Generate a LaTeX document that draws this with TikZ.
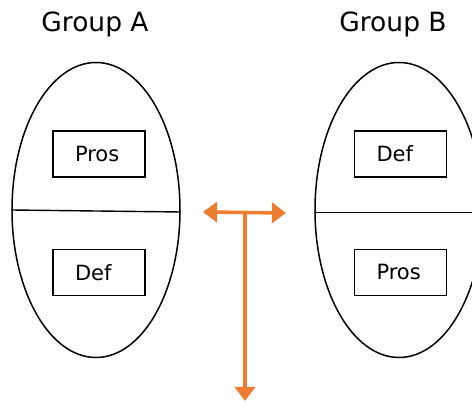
\documentclass[tikz,border=0pt]{standalone}
\usepackage{fontspec}
\setmainfont{DejaVu Sans}
\usetikzlibrary{shapes.geometric,arrows.meta}
\definecolor{arrorange}{RGB}{237,125,49}

\begin{document}
\begin{tikzpicture}[x=1pt,y=1pt,
    group/.style={draw,ellipse,line width=1.5pt,minimum width=168pt,minimum height=295pt,inner sep=0pt},
    item/.style={draw,line width=1.2pt,minimum height=46pt,text width=48pt,inner xsep=22pt,align=left,font=\fontsize{21}{25}\selectfont},
    title/.style={font=\fontsize{26.5}{31}\selectfont},
    orangearr/.style={draw=arrorange,line width=3.6pt}]
\useasboundingbox (0,0) rectangle (472,403);
% the two groups
\node[group] (ga) at (96,193) {};
\node[group] (gb) at (399,193) {};
\node[title] (ta) at (95,379) {Group A};
\node[title] (tb) at (393,379) {Group B};
\draw[line width=1.4pt] (ga.west) -- ([yshift=-2pt]ga.east);
\draw[line width=1.4pt] ([yshift=-2.5pt]gb.west) -- ([yshift=-2.5pt]gb.east);
% boxes inside
\node[item] (pa) at (99,249) {Pros};
\node[item] (da) at (99,130.5) {Def};
\node[item] (db) at (400.5,249) {Def};
\node[item] (pb) at (400.5,130.5) {Pros};
% orange arrows
\coordinate (lt) at (203,191);
\coordinate (rt) at (286,190);
\coordinate (jn) at (245,190.5);
\coordinate (bt) at (245,2);
\draw[orangearr,{Triangle[width=20pt,length=14pt]}-{Triangle[width=20pt,length=14pt]}] (lt) -- (rt);
\draw[orangearr,-{Triangle[width=20pt,length=14pt]}] (jn) -- (bt);
\end{tikzpicture}
\end{document}
